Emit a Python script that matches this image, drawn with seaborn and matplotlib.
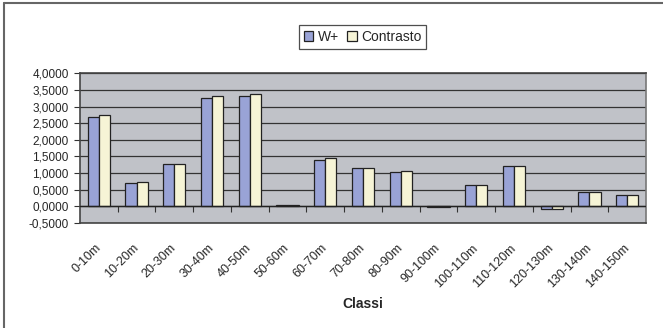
import pandas as pd
import matplotlib.pyplot as plt
import seaborn as sns
from matplotlib.ticker import FuncFormatter, FixedLocator
from matplotlib.lines import Line2D

classes = ['0-10m', '10-20m', '20-30m', '30-40m', '40-50m', '50-60m', '60-70m', '70-80m',
           '80-90m', '90-100m', '100-110m', '110-120m', '120-130m', '130-140m', '140-150m']
w_plus = [2.68, 0.70, 1.27, 3.25, 3.32, 0.02, 1.40, 1.14, 1.02, -0.04, 0.64, 1.22, -0.10, 0.41, 0.32]
contrasto = [2.74, 0.74, 1.27, 3.32, 3.38, 0.02, 1.44, 1.14, 1.05, -0.04, 0.64, 1.22, -0.10, 0.41, 0.32]

df = pd.DataFrame({'Classi': classes * 2,
                   'valore': w_plus + contrasto,
                   'serie': ['W+'] * len(classes) + ['Contrasto'] * len(classes)})

sns.set_style('white')
plt.rcParams['font.family'] = ['Liberation Sans', 'DejaVu Sans']

fig = plt.figure(figsize=(6.63, 3.28), dpi=100)
ax = fig.add_axes([0.1207, 0.321, 0.8537, 0.4555])
ax.set_facecolor('#c0c2c8')

sns.barplot(data=df, x='Classi', y='valore', hue='serie', order=classes,
            hue_order=['W+', 'Contrasto'], palette=['#99a3d6', '#f6f4d6'],
            width=0.59, gap=0, edgecolor='#222222', linewidth=0.9, saturation=1,
            ax=ax, zorder=3)

ax.set_ylim(-0.5, 4.0)
ax.set_xlim(-0.5, len(classes) - 0.5)
ax.set_yticks([i * 0.5 for i in range(-1, 9)])
ax.yaxis.set_major_formatter(FuncFormatter(lambda v, p: f'{v:.4f}'.replace('.', ',')))
ax.yaxis.grid(True, color='#333333', linewidth=0.9, zorder=1)
ax.set_axisbelow(True)
ax.axhline(0, color='#222222', linewidth=1.0, zorder=4)

for s in ax.spines.values():
    s.set_visible(True)
    s.set_color('#444444')
    s.set_linewidth(1.2)
ax.spines['right'].set_color('#777777')

ax.tick_params(axis='y', direction='out', length=4, width=0.8, color='#333333',
               labelsize=8.5, pad=4, left=True)
ax.tick_params(axis='x', length=0, labelsize=9, pad=17)
ax.set_xticks(range(len(classes)))
ax.set_xticklabels(classes, rotation=45, ha='right', va='center', rotation_mode='anchor')

# category boundary ticks on the zero line
loc0 = (0 - (-0.5)) / 4.5
sec = ax.secondary_xaxis(loc0)
sec.xaxis.set_major_locator(FixedLocator([i + 0.5 for i in range(len(classes) - 1)]))
sec.tick_params(direction='out', length=4, width=0.8, color='#333333', labelbottom=False)
sec.spines['bottom'].set_visible(False)

ax.set_xlabel('Classi', fontsize=10, fontweight='bold', labelpad=5)
ax.set_ylabel('')

handles, labels = ax.get_legend_handles_labels()
leg = fig.legend(handles, labels, loc='center', bbox_to_anchor=(0.5466, 0.887), ncol=2,
                 fontsize=10, frameon=True, fancybox=False, handlelength=0.7,
                 handleheight=0.7, handletextpad=0.3, columnspacing=0.6,
                 borderpad=0.35, edgecolor='#222222')
leg.get_frame().set_linewidth(0.9)
if ax.get_legend():
    ax.get_legend().remove()

fig.add_artist(Line2D([0.006, 0.006], [0, 0.99], color='#666666', linewidth=1.5))
fig.add_artist(Line2D([0.006, 1.0], [0.99, 0.99], color='#666666', linewidth=1.5))

plt.savefig('out.png', dpi=100)
